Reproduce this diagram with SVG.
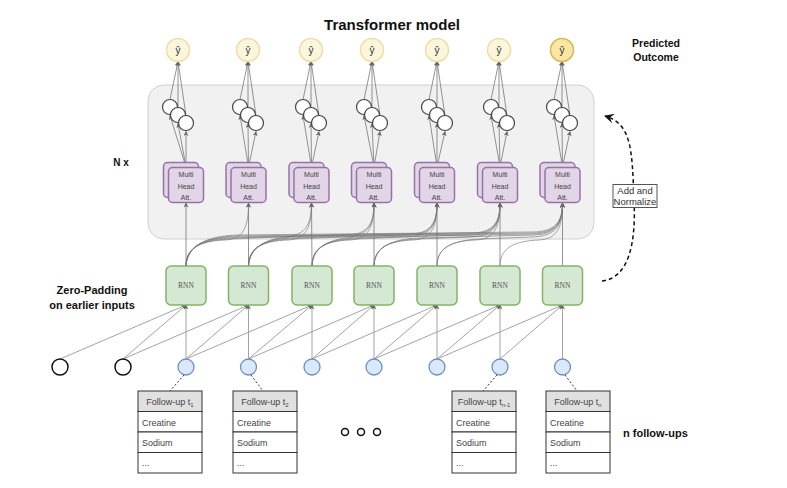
<svg xmlns="http://www.w3.org/2000/svg" width="787" height="488" viewBox="0 0 787 488">
<defs>
<marker id="ah" viewBox="0 0 10 10" refX="9" refY="5" markerWidth="5" markerHeight="5" orient="auto" markerUnits="userSpaceOnUse"><path d="M0,0 L10,5 L0,10 L3,5 z" fill="#666"/></marker>
<marker id="ahd" viewBox="0 0 10 10" refX="9" refY="5" markerWidth="10" markerHeight="10" orient="auto" markerUnits="userSpaceOnUse"><path d="M0,0 L10,5 L0,10 L4,5 z" fill="#111"/></marker>
<style>
text{font-family:"Liberation Sans",Arial,sans-serif}
.yh{fill:#fdf6dd;stroke:#eedda6;stroke-width:1.5}
.yhl{fill:#fbe6a2;stroke:#d6b656;stroke-width:1.5}
.sc{fill:#fff;stroke:#444;stroke-width:1.2}
.mha{fill:#e1d5e7;stroke:#9673a6;stroke-width:1.5}
.rnn{fill:#d5e8d4;stroke:#82b366;stroke-width:1.5}
.blue{fill:#dae8fc;stroke:#6c8ebf;stroke-width:1.3}
.blk{fill:#fff;stroke:#111;stroke-width:1.5}
.ln{stroke:#777;stroke-width:0.8;fill:none}
.lin{stroke:#999;stroke-width:0.9;fill:none}
.att{stroke:#777;stroke-width:0.65;fill:none}
.mt{font-size:7px;fill:#444;text-anchor:middle}
.rt{font-size:7.5px;fill:#555;text-anchor:middle;font-family:"Liberation Serif",serif}
.tb{fill:#fff;stroke:#333;stroke-width:1}
.th{fill:#e0e0e0;stroke:#333;stroke-width:1}
.tt{font-size:9px;fill:#444}
.dot{stroke:#333;stroke-width:1;stroke-dasharray:2 2;fill:none}
.lbl{font-weight:bold;fill:#111}
</style>
</defs>
<rect x="0" y="0" width="787" height="488" fill="#fff"/>
<text x="392" y="30" class="lbl" font-size="15" text-anchor="middle">Transformer model</text>
<text class="lbl" font-size="10.5" text-anchor="middle"><tspan x="656" y="47">Predicted</tspan><tspan x="656" y="61">Outcome</tspan></text>
<text x="121" y="166" class="lbl" font-size="10" text-anchor="middle">N x</text>
<text class="lbl" font-size="11" text-anchor="middle"><tspan x="92" y="294">Zero-Padding</tspan><tspan x="92" y="309">on earlier inputs</tspan></text>
<text x="623" y="437" class="lbl" font-size="11">n follow-ups</text>

<g id="container"><rect x="148" y="85" width="446" height="154" rx="16" fill="#f1f1f1" stroke="#d0d0d0" stroke-width="1"/></g>

<g id="connectors">
<g class="ln" marker-end="url(#ah)">
<path d="M186 167 L170 115.5"/><path d="M186 167 L178 123.5"/><path d="M186 167 L186 131.5"/>
<path d="M170 99.5 L178 61.5"/><path d="M178 107.5 L178 61.5"/><path d="M186 115.5 L178 61.5"/>
<path d="M248.5 167 L240 115.5"/><path d="M248.5 167 L248 123.5"/><path d="M248.5 167 L256 131.5"/>
<path d="M240 99.5 L248 61.5"/><path d="M248 107.5 L248 61.5"/><path d="M256 115.5 L248 61.5"/>
<path d="M311.5 167 L303 115.5"/><path d="M311.5 167 L311 123.5"/><path d="M311.5 167 L319 131.5"/>
<path d="M303 99.5 L311 61.5"/><path d="M311 107.5 L311 61.5"/><path d="M319 115.5 L311 61.5"/>
<path d="M374 167 L364 115.5"/><path d="M374 167 L372 123.5"/><path d="M374 167 L380 131.5"/>
<path d="M364 99.5 L372 61.5"/><path d="M372 107.5 L372 61.5"/><path d="M380 115.5 L372 61.5"/>
<path d="M437 167 L429 115.5"/><path d="M437 167 L437 123.5"/><path d="M437 167 L445 131.5"/>
<path d="M429 99.5 L437 61.5"/><path d="M437 107.5 L437 61.5"/><path d="M445 115.5 L437 61.5"/>
<path d="M500 167 L491 115.5"/><path d="M500 167 L499 123.5"/><path d="M500 167 L507 131.5"/>
<path d="M491 99.5 L499 61.5"/><path d="M499 107.5 L499 61.5"/><path d="M507 115.5 L499 61.5"/>
<path d="M562.5 167 L554 115.5"/><path d="M562.5 167 L562 123.5"/><path d="M562.5 167 L570 131.5"/>
<path d="M554 99.5 L562 61.5"/><path d="M562 107.5 L562 61.5"/><path d="M570 115.5 L562 61.5"/>
</g>
<g class="ln" marker-end="url(#ah)">
<path d="M186 266 L186 203"/><path d="M248.5 266 L248.5 203"/><path d="M312 266 L311.5 203"/><path d="M374 266 L374 203"/><path d="M437 266 L437 203"/><path d="M500 266 L500 203"/><path d="M562.5 266 L562.5 203"/>
</g>
<g class="att" marker-end="url(#ah)">
<path d="M186 266 C186 248,200 241,225 240 C243 239,248.5 228,248.5 203"/>
<path d="M186 266 C186 247,202 240,230 239 L280 237 C305 237,311.5 226,311.5 203"/>
<path d="M186 266 C186 246,204 239,232 238 L345 235 C368 235,374 224,374 203"/>
<path d="M186 266 C187 245,206 238,234 237 L408 234 C431 234,437 223,437 203"/>
<path d="M186 266 C187 244,208 237,236 236 L470 233 C494 233,500 222,500 203"/>
<path d="M186 266 C188 243,210 236,238 235 L532 232 C556 232,562.5 221,562.5 203"/>
<path d="M248.5 266 C248.5 248,262 241,288 240 C306 239,311.5 228,311.5 203"/>
<path d="M248.5 266 C249 247,264 240,292 239 L343 237 C368 237,374 226,374 203"/>
<path d="M248.5 266 C249 246,266 239,294 238 L408 235 C431 235,437 224,437 203"/>
<path d="M248.5 266 C250 245,268 238,296 237 L470 234 C494 234,500 223,500 203"/>
<path d="M248.5 266 C250 244,270 237,298 236 L532 233 C556 233,562.5 222,562.5 203"/>
<path d="M312 266 C312 248,325 241,350 240 C368 239,374 228,374 203"/>
<path d="M312 266 C312 247,327 240,355 239 L405 237 C431 237,437 226,437 203"/>
<path d="M312 266 C313 246,329 239,357 238 L470 235 C494 235,500 224,500 203"/>
<path d="M312 266 C313 245,331 238,359 237 L532 234 C556 234,562.5 223,562.5 203"/>
<path d="M374 266 C374 248,388 241,413 240 C431 239,437 228,437 203"/>
<path d="M374 266 C374 247,390 240,418 239 L468 237 C494 237,500 226,500 203"/>
<path d="M374 266 C375 246,392 239,420 238 L532 235 C556 235,562.5 224,562.5 203"/>
<path d="M437 266 C437 248,451 241,476 240 C494 239,500 228,500 203"/>
<path d="M437 266 C437 247,453 240,481 239 L530 237 C556 237,562.5 226,562.5 203"/>
<path d="M500 266 C500 248,514 241,539 240 C557 239,562.5 228,562.5 203"/>
</g>
<g class="lin" marker-end="url(#ah)">
<path d="M60 359 L186 305"/><path d="M123 359 L186 305"/><path d="M186 359 L186 305"/>
<path d="M123 359 L248.5 305"/><path d="M186 359 L248.5 305"/><path d="M248.5 359 L248.5 305"/>
<path d="M186 359 L312 305"/><path d="M248.5 359 L312 305"/><path d="M312 359 L312 305"/>
<path d="M248.5 359 L374 305"/><path d="M312 359 L374 305"/><path d="M374 359 L374 305"/>
<path d="M312 359 L437 305"/><path d="M374 359 L437 305"/><path d="M437 359 L437 305"/>
<path d="M374 359 L500 305"/><path d="M437 359 L500 305"/><path d="M500 359 L500 305"/>
<path d="M437 359 L562.5 305"/><path d="M500 359 L562.5 305"/><path d="M562.5 359 L562.5 305"/>
</g>
<path class="dot" d="M184 375 L170 391"/>
<path class="dot" d="M251 375 L263 391"/>
<path class="dot" d="M497 375 L483 391"/>
<path class="dot" d="M565 375 L577 391"/>
<path d="M602 281 C630 278,636 240,634 200 C632 150,632 124,605 116" fill="none" stroke="#111" stroke-width="1.5" stroke-dasharray="4 3" marker-end="url(#ahd)"/>
</g>

<g id="yhat">
<circle class="yh" cx="178" cy="50" r="11.5"/><circle class="yh" cx="248" cy="50" r="11.5"/><circle class="yh" cx="311" cy="50" r="11.5"/><circle class="yh" cx="372" cy="50" r="11.5"/><circle class="yh" cx="437" cy="50" r="11.5"/><circle class="yh" cx="499" cy="50" r="11.5"/><circle class="yhl" cx="562" cy="50" r="11.5"/>
<g font-size="10" fill="#333" text-anchor="middle"><text x="178" y="54">ŷ</text><text x="248" y="54">ŷ</text><text x="311" y="54">ŷ</text><text x="372" y="54">ŷ</text><text x="437" y="54">ŷ</text><text x="499" y="54">ŷ</text><text x="562" y="54">ŷ</text></g>
</g>

<g id="ffn">
<circle class="sc" cx="170" cy="107" r="7.5"/><circle class="sc" cx="178" cy="115" r="7.5"/><circle class="sc" cx="186" cy="123" r="7.5"/>
<circle class="sc" cx="240" cy="107" r="7.5"/><circle class="sc" cx="248" cy="115" r="7.5"/><circle class="sc" cx="256" cy="123" r="7.5"/>
<circle class="sc" cx="303" cy="107" r="7.5"/><circle class="sc" cx="311" cy="115" r="7.5"/><circle class="sc" cx="319" cy="123" r="7.5"/>
<circle class="sc" cx="364" cy="107" r="7.5"/><circle class="sc" cx="372" cy="115" r="7.5"/><circle class="sc" cx="380" cy="123" r="7.5"/>
<circle class="sc" cx="429" cy="107" r="7.5"/><circle class="sc" cx="437" cy="115" r="7.5"/><circle class="sc" cx="445" cy="123" r="7.5"/>
<circle class="sc" cx="491" cy="107" r="7.5"/><circle class="sc" cx="499" cy="115" r="7.5"/><circle class="sc" cx="507" cy="123" r="7.5"/>
<circle class="sc" cx="554" cy="107" r="7.5"/><circle class="sc" cx="562" cy="115" r="7.5"/><circle class="sc" cx="570" cy="123" r="7.5"/>
</g>

<g id="mha">
<g id="mha1"><rect class="mha" x="163.5" y="162.5" width="35" height="35" rx="4"/><rect class="mha" x="168.5" y="167.5" width="35" height="35" rx="4"/><text class="mt"><tspan x="186" y="177">Multi</tspan><tspan x="186" y="188.5">Head</tspan><tspan x="186" y="200">Att.</tspan></text></g>
<g id="mha2"><rect class="mha" x="226" y="162.5" width="35" height="35" rx="4"/><rect class="mha" x="231" y="167.5" width="35" height="35" rx="4"/><text class="mt"><tspan x="248.5" y="177">Multi</tspan><tspan x="248.5" y="188.5">Head</tspan><tspan x="248.5" y="200">Att.</tspan></text></g>
<g id="mha3"><rect class="mha" x="289" y="162.5" width="35" height="35" rx="4"/><rect class="mha" x="294" y="167.5" width="35" height="35" rx="4"/><text class="mt"><tspan x="311.5" y="177">Multi</tspan><tspan x="311.5" y="188.5">Head</tspan><tspan x="311.5" y="200">Att.</tspan></text></g>
<g id="mha4"><rect class="mha" x="351.5" y="162.5" width="35" height="35" rx="4"/><rect class="mha" x="356.5" y="167.5" width="35" height="35" rx="4"/><text class="mt"><tspan x="374" y="177">Multi</tspan><tspan x="374" y="188.5">Head</tspan><tspan x="374" y="200">Att.</tspan></text></g>
<g id="mha5"><rect class="mha" x="414.5" y="162.5" width="35" height="35" rx="4"/><rect class="mha" x="419.5" y="167.5" width="35" height="35" rx="4"/><text class="mt"><tspan x="437" y="177">Multi</tspan><tspan x="437" y="188.5">Head</tspan><tspan x="437" y="200">Att.</tspan></text></g>
<g id="mha6"><rect class="mha" x="477.5" y="162.5" width="35" height="35" rx="4"/><rect class="mha" x="482.5" y="167.5" width="35" height="35" rx="4"/><text class="mt"><tspan x="500" y="177">Multi</tspan><tspan x="500" y="188.5">Head</tspan><tspan x="500" y="200">Att.</tspan></text></g>
<g id="mha7"><rect class="mha" x="540" y="162.5" width="35" height="35" rx="4"/><rect class="mha" x="545" y="167.5" width="35" height="35" rx="4"/><text class="mt"><tspan x="562.5" y="177">Multi</tspan><tspan x="562.5" y="188.5">Head</tspan><tspan x="562.5" y="200">Att.</tspan></text></g>
</g>

<g id="addnorm"><rect x="613" y="184.5" width="44" height="23" fill="#fff" stroke="#555" stroke-width="1"/><text font-size="9.5" fill="#333" text-anchor="middle"><tspan x="635" y="194">Add and</tspan><tspan x="635" y="205">Normalize</tspan></text></g>

<g id="rnn">
<g id="rnn1"><rect class="rnn" x="166" y="266" width="40" height="39" rx="5"/><text class="rt" x="186" y="288">RNN</text></g>
<g id="rnn2"><rect class="rnn" x="228.5" y="266" width="40" height="39" rx="5"/><text class="rt" x="248.5" y="288">RNN</text></g>
<g id="rnn3"><rect class="rnn" x="292" y="266" width="40" height="39" rx="5"/><text class="rt" x="312" y="288">RNN</text></g>
<g id="rnn4"><rect class="rnn" x="354" y="266" width="40" height="39" rx="5"/><text class="rt" x="374" y="288">RNN</text></g>
<g id="rnn5"><rect class="rnn" x="417" y="266" width="40" height="39" rx="5"/><text class="rt" x="437" y="288">RNN</text></g>
<g id="rnn6"><rect class="rnn" x="480" y="266" width="40" height="39" rx="5"/><text class="rt" x="500" y="288">RNN</text></g>
<g id="rnn7"><rect class="rnn" x="542.5" y="266" width="40" height="39" rx="5"/><text class="rt" x="562.5" y="288">RNN</text></g>
</g>

<g id="inputs">
<circle class="blk" cx="60" cy="367" r="8"/><circle class="blk" cx="123" cy="367" r="8"/>
<circle class="blue" cx="186" cy="367" r="8"/><circle class="blue" cx="248.5" cy="367" r="8"/><circle class="blue" cx="312" cy="367" r="8"/><circle class="blue" cx="374" cy="367" r="8"/><circle class="blue" cx="437" cy="367" r="8"/><circle class="blue" cx="500" cy="367" r="8"/><circle class="blue" cx="562.5" cy="367" r="8"/>
</g>

<g id="table1">
<rect class="th" x="138" y="391" width="64" height="20.5"/><rect class="tb" x="138" y="411.5" width="64" height="20.5"/><rect class="tb" x="138" y="432" width="64" height="20.5"/><rect class="tb" x="138" y="452.5" width="64" height="20.5"/>
<text class="tt" x="170" y="405" text-anchor="middle">Follow-up t<tspan font-size="6" dy="2">1</tspan></text>
<text class="tt" x="142" y="425.5">Creatine</text><text class="tt" x="142" y="446">Sodium</text><text class="tt" x="142" y="466" fill="#999">...</text>
</g>
<g id="table2">
<rect class="th" x="233" y="391" width="64" height="20.5"/><rect class="tb" x="233" y="411.5" width="64" height="20.5"/><rect class="tb" x="233" y="432" width="64" height="20.5"/><rect class="tb" x="233" y="452.5" width="64" height="20.5"/>
<text class="tt" x="265" y="405" text-anchor="middle">Follow-up t<tspan font-size="6" dy="2">2</tspan></text>
<text class="tt" x="237" y="425.5">Creatine</text><text class="tt" x="237" y="446">Sodium</text><text class="tt" x="237" y="466" fill="#999">...</text>
</g>
<g id="table3">
<rect class="th" x="452" y="391" width="64" height="20.5"/><rect class="tb" x="452" y="411.5" width="64" height="20.5"/><rect class="tb" x="452" y="432" width="64" height="20.5"/><rect class="tb" x="452" y="452.5" width="64" height="20.5"/>
<text class="tt" x="484" y="405" text-anchor="middle">Follow-up t<tspan font-size="6" dy="2">n-1</tspan></text>
<text class="tt" x="456" y="425.5">Creatine</text><text class="tt" x="456" y="446">Sodium</text><text class="tt" x="456" y="466" fill="#999">...</text>
</g>
<g id="table4">
<rect class="th" x="546" y="391" width="64" height="20.5"/><rect class="tb" x="546" y="411.5" width="64" height="20.5"/><rect class="tb" x="546" y="432" width="64" height="20.5"/><rect class="tb" x="546" y="452.5" width="64" height="20.5"/>
<text class="tt" x="578" y="405" text-anchor="middle">Follow-up t<tspan font-size="6" dy="2">n</tspan></text>
<text class="tt" x="550" y="425.5">Creatine</text><text class="tt" x="550" y="446">Sodium</text><text class="tt" x="550" y="466" fill="#999">...</text>
</g>

<g id="ellipsis" fill="none" stroke="#111" stroke-width="1.5">
<circle cx="345" cy="432" r="3.5"/><circle cx="361" cy="432" r="3.5"/><circle cx="377" cy="432" r="3.5"/>
</g>
</svg>
